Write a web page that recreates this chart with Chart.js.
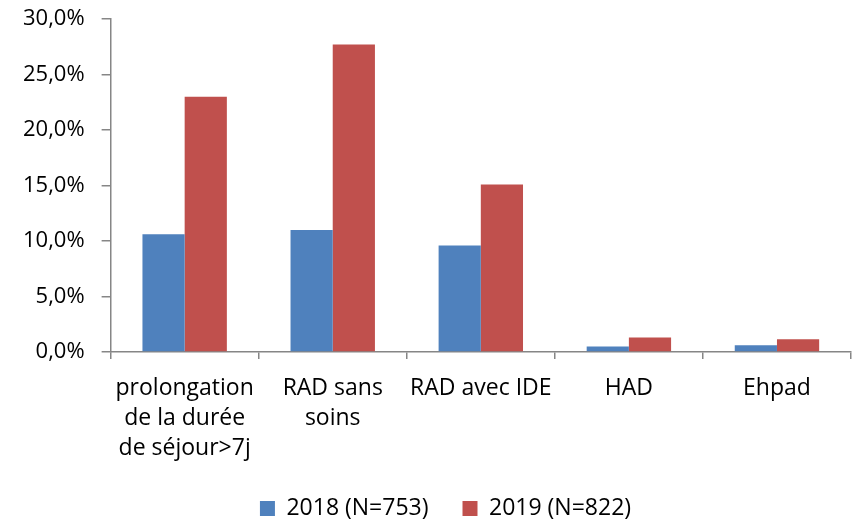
<!DOCTYPE html>
<html>
<head>
<meta charset="utf-8">
<script src="https://cdn.jsdelivr.net/npm/chart.js@4/dist/chart.umd.min.js"></script>
<style>
  html, body { margin: 0; padding: 0; background: #fff; }
  #wrap { width: 853px; height: 522px; position: relative; }
</style>
</head>
<body>
<div id="wrap"><canvas id="chart"></canvas></div>
<script>
// Données
const categories = [
    ['prolongation', 'de la durée', 'de séjour>7j'],
    ['RAD sans', 'soins'],
    'RAD avec IDE',
    'HAD',
    'Ehpad'
];
const serie2018 = [10.6, 11.0, 9.6, 0.5, 0.6];
const serie2019 = [23.0, 27.7, 15.1, 1.3, 1.15];
const seriesLabels = ['2018 (N=753)', '2019 (N=822)'];
const yTicks = [0, 5, 10, 15, 20, 25, 30];

const axisColor = '#868686';
const family = '"Open Sans", sans-serif';

// Décale légèrement la légende vers la droite comme dans l'original
const decalLegende = {
    id: 'decalLegende',
    afterLayout(c) {
        c.legend.left += 17;
        c.legend.right += 17;
    }
};

const ctx = document.getElementById('chart').getContext('2d');
const chart = new Chart(ctx, {
    type: 'bar',
    data: {
        labels: categories,
        datasets: [{
            label: seriesLabels[0],
            data: serie2018,
            backgroundColor: '#4F81BD',
            categoryPercentage: 0.57,
            barPercentage: 1
        }, {
            label: seriesLabels[1],
            data: serie2019,
            backgroundColor: '#C0504D',
            categoryPercentage: 0.57,
            barPercentage: 1
        }]
    },
    options: {
        responsive: true,
        maintainAspectRatio: false,
        animation: false,
        layout: { padding: { top: 0, right: 2, left: 6, bottom: -8 } },
        plugins: {
            tooltip: { enabled: false },
            legend: {
                position: 'bottom',
                labels: {
                    color: '#000',
                    font: { family: family, size: 23 },
                    boxWidth: 15,
                    boxHeight: 15,
                    padding: 34
                }
            }
        },
        scales: {
            x: {
                offset: true,
                border: { color: axisColor, width: 1.5 },
                grid: {
                    offset: true,
                    drawOnChartArea: false,
                    color: axisColor,
                    tickLength: 7,
                    lineWidth: 1.5
                },
                ticks: {
                    color: '#000',
                    font: { family: family, size: 23, lineHeight: 1.3 },
                    padding: 15,
                    maxRotation: 0
                },
                // les libellés peuvent déborder vers la légende
                afterFit: axis => { axis.height = 111; }
            },
            y: {
                min: 0,
                max: 30,
                afterBuildTicks: axis => { axis.ticks = yTicks.map(v => ({ value: v })); },
                afterFit: axis => { axis.paddingTop = 19; },
                border: { color: axisColor, width: 1.5 },
                grid: {
                    drawOnChartArea: false,
                    color: axisColor,
                    tickLength: 9,
                    lineWidth: 1.5
                },
                ticks: {
                    color: '#000',
                    font: { family: family, size: 22 },
                    padding: 17,
                    callback: v => v.toFixed(1).replace('.', ',') + '%'
                }
            }
        }
    },
    plugins: [decalLegende]
});
</script>
</body>
</html>
